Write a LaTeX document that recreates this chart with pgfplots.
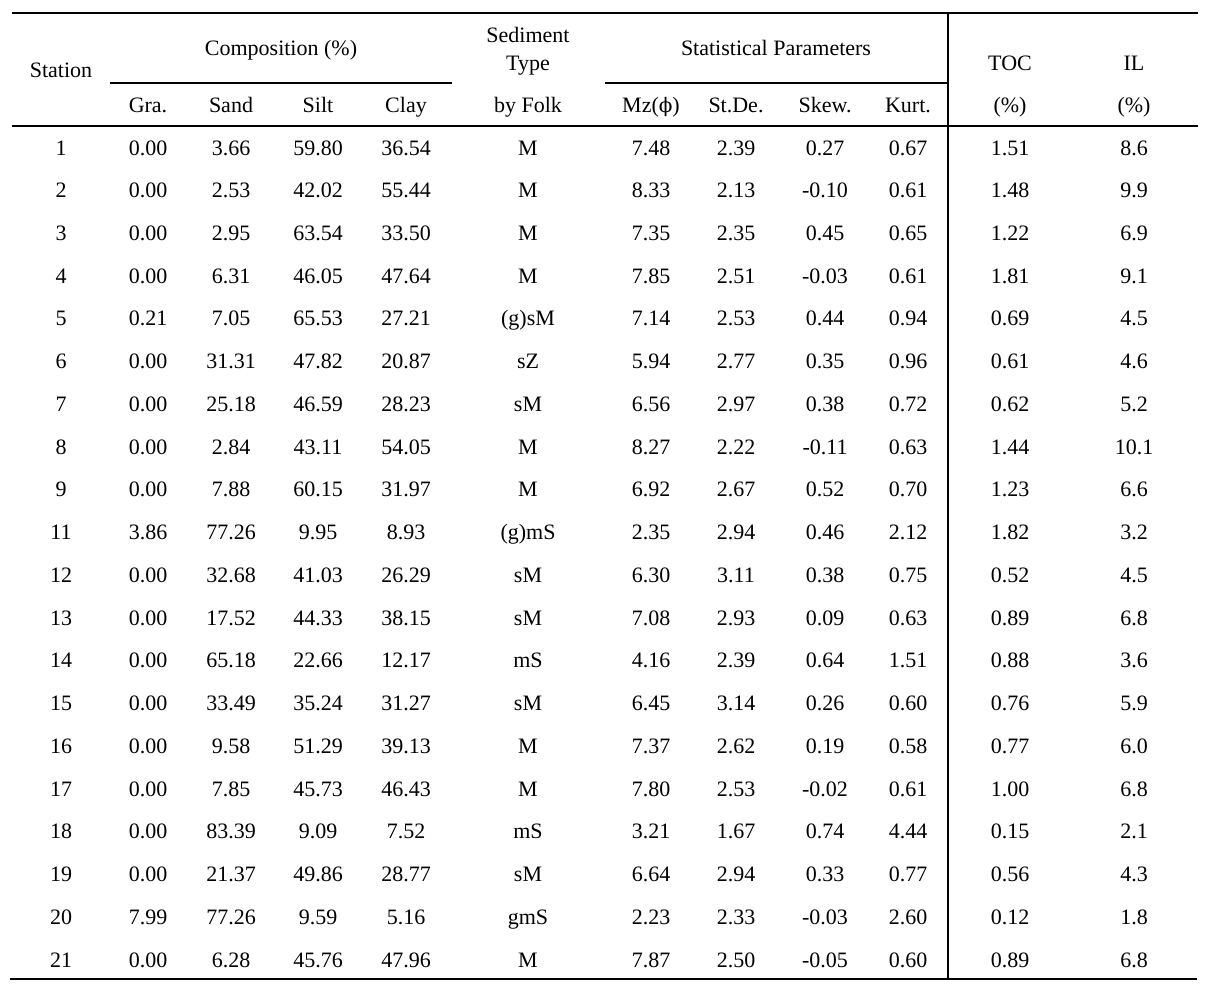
\documentclass[border=0pt]{standalone}
\usepackage{fontspec}
\setmainfont{Liberation Serif}
\newfontfamily\phifont{DejaVu Serif}
\usepackage{pgfplots}
\usepackage{pgfplotstable}
\pgfplotsset{compat=1.18}
\pgfplotstableread{
station gra sand silt clay folk mz sd skew kurt toc il
1 0.00 3.66 59.80 36.54 M 7.48 2.39 0.27 0.67 1.51 8.6
2 0.00 2.53 42.02 55.44 M 8.33 2.13 -0.10 0.61 1.48 9.9
3 0.00 2.95 63.54 33.50 M 7.35 2.35 0.45 0.65 1.22 6.9
4 0.00 6.31 46.05 47.64 M 7.85 2.51 -0.03 0.61 1.81 9.1
5 0.21 7.05 65.53 27.21 (g)sM 7.14 2.53 0.44 0.94 0.69 4.5
6 0.00 31.31 47.82 20.87 sZ 5.94 2.77 0.35 0.96 0.61 4.6
7 0.00 25.18 46.59 28.23 sM 6.56 2.97 0.38 0.72 0.62 5.2
8 0.00 2.84 43.11 54.05 M 8.27 2.22 -0.11 0.63 1.44 10.1
9 0.00 7.88 60.15 31.97 M 6.92 2.67 0.52 0.70 1.23 6.6
11 3.86 77.26 9.95 8.93 (g)mS 2.35 2.94 0.46 2.12 1.82 3.2
12 0.00 32.68 41.03 26.29 sM 6.30 3.11 0.38 0.75 0.52 4.5
13 0.00 17.52 44.33 38.15 sM 7.08 2.93 0.09 0.63 0.89 6.8
14 0.00 65.18 22.66 12.17 mS 4.16 2.39 0.64 1.51 0.88 3.6
15 0.00 33.49 35.24 31.27 sM 6.45 3.14 0.26 0.60 0.76 5.9
16 0.00 9.58 51.29 39.13 M 7.37 2.62 0.19 0.58 0.77 6.0
17 0.00 7.85 45.73 46.43 M 7.80 2.53 -0.02 0.61 1.00 6.8
18 0.00 83.39 9.09 7.52 mS 3.21 1.67 0.74 4.44 0.15 2.1
19 0.00 21.37 49.86 28.77 sM 6.64 2.94 0.33 0.77 0.56 4.3
20 7.99 77.26 9.59 5.16 gmS 2.23 2.33 -0.03 2.60 0.12 1.8
21 0.00 6.28 45.76 47.96 M 7.87 2.50 -0.05 0.60 0.89 6.8
}\tab
\newcommand{\fs}{\fontsize{11}{13}\selectfont}
\newcommand{\col}[2]{\addplot[only marks, mark=none, nodes near coords, point meta=explicit symbolic,
  nodes near coords style={anchor=base, font=\fs, inner sep=0pt}]
  table[x expr=#1, y expr={155+42.74*\coordindex}, meta=#2] {\tab};}
\begin{document}
\begin{tikzpicture}
\begin{axis}[
  scale only axis, width=608pt, height=496.5pt,
  xmin=0, xmax=1216, ymin=0, ymax=993, y dir=reverse,
  hide axis, clip=false]
\addplot[draw=none] coordinates {(0,0) (1216,993)};
% rules
\addplot[line width=1.3pt] coordinates {(12,13) (1198,13)};
\addplot[line width=1pt] coordinates {(110,83) (452,83)};
\addplot[line width=1pt] coordinates {(605,83) (948,83)};
\addplot[line width=1pt] coordinates {(12,126) (1198,126)};
\addplot[line width=1.3pt] coordinates {(10,979) (1197,979)};
\addplot[line width=0.8pt] coordinates {(948,13) (948,979)};
% headers
\begin{scope}[every node/.style={anchor=base, font=\fs, inner sep=0pt}]
\node at (axis cs:61,77) {Station};
\node at (axis cs:281,55) {Composition (\%)};
\node at (axis cs:148,112) {Gra.};
\node at (axis cs:231,112) {Sand};
\node at (axis cs:318,112) {Silt};
\node at (axis cs:406,112) {Clay};
\node at (axis cs:528,42) {Sediment};
\node at (axis cs:528,70) {Type};
\node at (axis cs:528,112) {by Folk};
\node at (axis cs:776,55) {Statistical Parameters};
\node at (axis cs:651,112) {Mz({\phifont\fontsize{10}{12}\selectfont ϕ})};
\node at (axis cs:736,112) {St.De.};
\node at (axis cs:825,112) {Skew.};
\node at (axis cs:908,112) {Kurt.};
\node at (axis cs:1010,70) {TOC};
\node at (axis cs:1010,112) {(\%)};
\node at (axis cs:1134,70) {IL};
\node at (axis cs:1134,112) {(\%)};
\end{scope}
% body
\col{61}{station}
\col{148}{gra}
\col{231}{sand}
\col{318}{silt}
\col{406}{clay}
\col{528}{folk}
\col{651}{mz}
\col{736}{sd}
\col{825}{skew}
\col{908}{kurt}
\col{1010}{toc}
\col{1134}{il}
\end{axis}
\end{tikzpicture}
\end{document}
